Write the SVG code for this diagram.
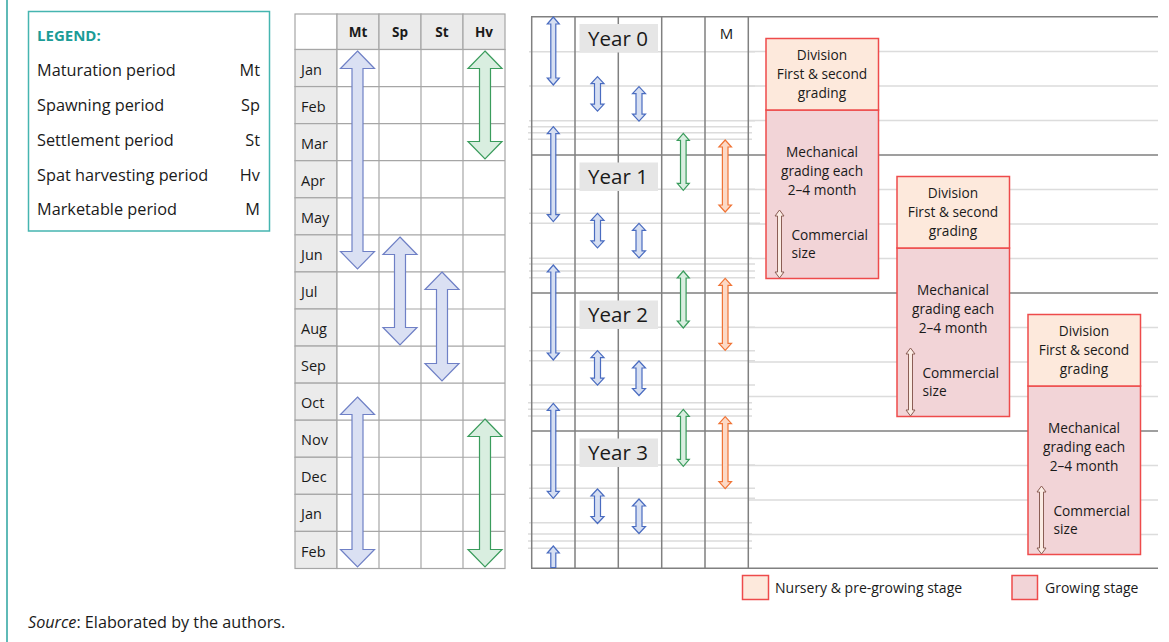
<svg xmlns="http://www.w3.org/2000/svg" xmlns:xlink="http://www.w3.org/1999/xlink" width="1169" height="642" viewBox="0 0 1169 642">
  <style>
    text { font-family: "Open Sans", "Liberation Sans", sans-serif; fill: #1a1a1a; }
    .leg { font-size: 16.3px; }
    .legh { font-size: 15px; font-weight: bold; fill: #1b9c97; }
    .hdr { font-size: 13.5px; font-weight: bold; text-anchor: middle; }
    .mon { font-size: 14.5px; }
    .yr { font-size: 20.5px; text-anchor: middle; }
    .bx { font-size: 13.7px; text-anchor: middle; }
    .bxl { font-size: 13.7px; }
    .small { font-size: 14px; }
    .cell { fill: #ffffff; stroke: #a6a6a6; stroke-width: 1.2; }
    .gcell { fill: #ebebeb; stroke: #a6a6a6; stroke-width: 1.2; }
    .dark { stroke: #808080; stroke-width: 1.5; fill: none; }
    .light { stroke: #dcdcdc; stroke-width: 1.5; fill: none; }
    .blue { fill: #dae0f3; stroke: #6f80c6; stroke-width: 1.2; }
    .sblue { fill: #d6dff2; stroke: #4a6cc0; stroke-width: 1.2; }
    .green { fill: #d9eee0; stroke: #3a9c5c; stroke-width: 1.2; }
    .orange { fill: #fcd9c6; stroke: #f07436; stroke-width: 1.2; }
    .brown { fill: #fbece4; stroke: #8a5e55; stroke-width: 1; }
    .nurs { fill: #fde9dc; stroke: #ee4b4b; stroke-width: 1.5; }
    .grow { fill: #f2d4d7; stroke: #ee4b4b; stroke-width: 1.5; }
    .ylab { fill: #e6e6e6; }
  </style>
  <defs>
    <path id="a-c1s" d="M0,0 L6,7 L2.5,7 L2.5,61 L6,61 L0,68 L-6,61 L-2.5,61 L-2.5,7 L-6,7 Z"/>
    <path id="a-c1" d="M0,0 L6,7 L2.5,7 L2.5,88 L6,88 L0,95 L-6,88 L-2.5,88 L-2.5,7 L-6,7 Z"/>
    <path id="a-short" d="M0,0 L6.5,7 L3,7 L3,27.5 L6.5,27.5 L0,34.5 L-6.5,27.5 L-3,27.5 L-3,7 L-6.5,7 Z"/>
    <path id="a-green" d="M0,0 L6,7 L2.8,7 L2.8,50 L6,50 L0,57 L-6,50 L-2.8,50 L-2.8,7 L-6,7 Z"/>
    <path id="a-orange" d="M0,0 L6.3,7 L2.8,7 L2.8,65 L6.3,65 L0,72 L-6.3,65 L-2.8,65 L-2.8,7 L-6.3,7 Z"/>
    <path id="a-size" d="M0,0 L4.5,6 L2,6 L2,62 L4.5,62 L0,68 L-4.5,62 L-2,62 L-2,6 L-4.5,6 Z"/>
  </defs>

  <rect width="1169" height="642" fill="#ffffff"/>
  <!-- side rule -->
  <line x1="7" y1="0" x2="7" y2="642" stroke="#2aa39f" stroke-width="1.5"/>

  <!-- legend -->
  <g id="legend">
    <rect x="28.5" y="11.5" width="241" height="219.5" fill="#ffffff" stroke="#45b5b0" stroke-width="1.5"/>
    <text class="legh" x="37" y="40.5">LEGEND:</text>
    <text class="leg" x="37" y="76">Maturation period</text>
    <text class="leg" x="260" y="76" text-anchor="end">Mt</text>
    <text class="leg" x="37" y="111">Spawning period</text>
    <text class="leg" x="260" y="111" text-anchor="end">Sp</text>
    <text class="leg" x="37" y="145.5">Settlement period</text>
    <text class="leg" x="260" y="145.5" text-anchor="end">St</text>
    <text class="leg" x="37" y="180.5">Spat harvesting period</text>
    <text class="leg" x="260" y="180.5" text-anchor="end">Hv</text>
    <text class="leg" x="37" y="215">Marketable period</text>
    <text class="leg" x="260" y="215" text-anchor="end">M</text>
  </g>

  <!-- monthly calendar table -->
  <g id="calendar">
    <rect class="cell" x="295" y="14" width="42" height="35.5"/>
    <rect class="gcell" x="337" y="14" width="42" height="35.5"/>
    <rect class="gcell" x="379" y="14" width="42" height="35.5"/>
    <rect class="gcell" x="421" y="14" width="42" height="35.5"/>
    <rect class="gcell" x="463" y="14" width="42" height="35.5"/>
    <text class="hdr" x="358" y="37.3">Mt</text>
    <text class="hdr" x="400" y="37.3">Sp</text>
    <text class="hdr" x="442" y="37.3">St</text>
    <text class="hdr" x="484" y="37.3">Hv</text>
    <!-- month column -->
    <g>
      <rect class="gcell" x="295" y="49.5" width="42" height="37.07"/>
      <rect class="gcell" x="295" y="86.57" width="42" height="37.07"/>
      <rect class="gcell" x="295" y="123.64" width="42" height="37.07"/>
      <rect class="gcell" x="295" y="160.71" width="42" height="37.07"/>
      <rect class="gcell" x="295" y="197.78" width="42" height="37.07"/>
      <rect class="gcell" x="295" y="234.85" width="42" height="37.07"/>
      <rect class="gcell" x="295" y="271.92" width="42" height="37.07"/>
      <rect class="gcell" x="295" y="308.99" width="42" height="37.07"/>
      <rect class="gcell" x="295" y="346.06" width="42" height="37.07"/>
      <rect class="gcell" x="295" y="383.13" width="42" height="37.07"/>
      <rect class="gcell" x="295" y="420.2" width="42" height="37.07"/>
      <rect class="gcell" x="295" y="457.27" width="42" height="37.07"/>
      <rect class="gcell" x="295" y="494.34" width="42" height="37.07"/>
      <rect class="gcell" x="295" y="531.41" width="42" height="37.07"/>
    </g>
    <!-- body cells -->
    <rect class="cell" x="337" y="49.5" width="168" height="519"/>
    <g stroke="#a6a6a6" stroke-width="1.2">
      <line x1="379" y1="49.5" x2="379" y2="568.5"/>
      <line x1="421" y1="49.5" x2="421" y2="568.5"/>
      <line x1="463" y1="49.5" x2="463" y2="568.5"/>
      <line x1="337" y1="86.57" x2="505" y2="86.57"/>
      <line x1="337" y1="123.64" x2="505" y2="123.64"/>
      <line x1="337" y1="160.71" x2="505" y2="160.71"/>
      <line x1="337" y1="197.78" x2="505" y2="197.78"/>
      <line x1="337" y1="234.85" x2="505" y2="234.85"/>
      <line x1="337" y1="271.92" x2="505" y2="271.92"/>
      <line x1="337" y1="308.99" x2="505" y2="308.99"/>
      <line x1="337" y1="346.06" x2="505" y2="346.06"/>
      <line x1="337" y1="383.13" x2="505" y2="383.13"/>
      <line x1="337" y1="420.2" x2="505" y2="420.2"/>
      <line x1="337" y1="457.27" x2="505" y2="457.27"/>
      <line x1="337" y1="494.34" x2="505" y2="494.34"/>
      <line x1="337" y1="531.41" x2="505" y2="531.41"/>
    </g>
    <g class="mon">
      <text x="301" y="74.5">Jan</text>
      <text x="301" y="111.6">Feb</text>
      <text x="301" y="148.7">Mar</text>
      <text x="301" y="185.7">Apr</text>
      <text x="301" y="222.8">May</text>
      <text x="301" y="259.9">Jun</text>
      <text x="301" y="297">Jul</text>
      <text x="301" y="334">Aug</text>
      <text x="301" y="371.1">Sep</text>
      <text x="301" y="408.2">Oct</text>
      <text x="301" y="445.2">Nov</text>
      <text x="301" y="482.3">Dec</text>
      <text x="301" y="519.4">Jan</text>
      <text x="301" y="556.5">Feb</text>
    </g>
  </g>

  <!-- multi-year timeline grid -->
  <g id="timeline">
    <g class="light">
      <!-- working lines across the period columns -->
      <path d="M529,51.7 H755 M529,86 H755 M529,120.7 H755 M528,126.7 H752 M528,132.7 H752 M528,139.3 H752
               M529,189.3 H755 M529,213.3 H760 M529,223.3 H760 M529,258.3 H752 M529,264 H755 M529,271 H755 M529,277.7 H755
               M529,327.3 H755 M529,350.7 H755 M529,360.7 H755 M529,385 H755 M528,402.7 H752 M528,409.3 H752 M528,416 H752
               M529,465 H755 M529,488.3 H755 M529,498.3 H755 M529,522.7 H752 M528,534 H752 M528,541 H752 M528,548.3 H752"/>
      <!-- quarter lines -->
      <path d="M748,51.5 H1158 M748,86 H1158 M748,120.5 H1158
               M748,189.5 H1158 M748,224 H1158 M748,258.5 H1158
               M748,327.5 H1158 M748,362 H1158 M748,396.5 H1158
               M748,465.5 H1158 M748,500 H1158 M748,534.5 H1158"/>
    </g>
    <g class="dark">
      <path d="M531,16.7 H1158 M531,155 H1158 M531,293 H1158 M531,431 H1158 M531,568.3 H1158"/>
      <path d="M531.7,16.7 V568.3 M575,16.7 V568.3 M618.3,16.7 V568.3 M661.7,16.7 V568.3 M705,16.7 V568.3 M748.3,16.7 V568.3"/>
    </g>
    <text x="726.5" y="38.5" font-size="15" text-anchor="middle">M</text>
  </g>

  <!-- year labels -->
  <g id="year-0"><rect class="ylab" x="579.5" y="24" width="78.5" height="28.5"/><text class="yr" x="618" y="46">Year 0</text></g>
  <g id="year-1"><rect class="ylab" x="579.5" y="162.5" width="78.5" height="28.5"/><text class="yr" x="618" y="184">Year 1</text></g>
  <g id="year-2"><rect class="ylab" x="579.5" y="300.5" width="78.5" height="28.5"/><text class="yr" x="618" y="322">Year 2</text></g>
  <g id="year-3"><rect class="ylab" x="579.5" y="438.5" width="78.5" height="28.5"/><text class="yr" x="618" y="460">Year 3</text></g>

  <!-- period arrows -->
  <g id="arrows">
    <!-- calendar table -->
    <path class="blue" d="M357.5,51 L374.5,68.5 L363,68.5 L363,251.5 L374.5,251.5 L357.5,269 L340.5,251.5 L352,251.5 L352,68.5 L340.5,68.5 Z"/>
    <path class="blue" d="M400,237 L417,254.5 L405.5,254.5 L405.5,327.5 L417,327.5 L400,345 L383,327.5 L394.5,327.5 L394.5,254.5 L383,254.5 Z"/>
    <path class="blue" d="M442,272 L459,289.5 L447.5,289.5 L447.5,363.5 L459,363.5 L442,381 L425,363.5 L436.5,363.5 L436.5,289.5 L425,289.5 Z"/>
    <path class="green" d="M485,51 L502,68.5 L490.5,68.5 L490.5,141.5 L502,141.5 L485,159 L468,141.5 L479.5,141.5 L479.5,68.5 L468,68.5 Z"/>
    <path class="blue" d="M357.5,397 L374.5,414.5 L363,414.5 L363,549.5 L374.5,549.5 L357.5,567 L340.5,549.5 L352,549.5 L352,414.5 L340.5,414.5 Z"/>
    <path class="green" d="M485,419 L502,436.5 L490.5,436.5 L490.5,549.5 L502,549.5 L485,567 L468,549.5 L479.5,549.5 L479.5,436.5 L468,436.5 Z"/>
    <!-- timeline: maturation -->
    <use href="#a-c1s" class="sblue" x="553.3" y="17"/>
    <use href="#a-c1" class="sblue" x="553.3" y="126.7"/>
    <use href="#a-c1" class="sblue" x="553.3" y="265"/>
    <use href="#a-c1" class="sblue" x="553.3" y="403.3"/>
    <path class="sblue" d="M553.3,546 L559.3,553 L555.8,553 L555.8,567.5 L550.8,567.5 L550.8,553 L547.3,553 Z"/>
    <!-- spawning -->
    <use href="#a-short" class="sblue" x="597.5" y="76.7"/>
    <use href="#a-short" class="sblue" x="597.5" y="213.3"/>
    <use href="#a-short" class="sblue" x="597.5" y="350.7"/>
    <use href="#a-short" class="sblue" x="597.5" y="489"/>
    <!-- settlement -->
    <use href="#a-short" class="sblue" x="639" y="86.7"/>
    <use href="#a-short" class="sblue" x="639" y="223.3"/>
    <use href="#a-short" class="sblue" x="639" y="361"/>
    <use href="#a-short" class="sblue" x="639" y="499"/>
    <!-- spat harvesting -->
    <use href="#a-green" class="green" x="683.3" y="133.3"/>
    <use href="#a-green" class="green" x="683.3" y="271"/>
    <use href="#a-green" class="green" x="683.3" y="409.3"/>
    <!-- marketable -->
    <use href="#a-orange" class="orange" x="725.2" y="140"/>
    <use href="#a-orange" class="orange" x="725.2" y="278.3"/>
    <use href="#a-orange" class="orange" x="725.2" y="416.7"/>
  </g>

  <!-- stage boxes -->
  <g id="stage-1">
    <rect class="grow" x="766" y="110" width="112.5" height="168.5"/>
    <rect class="nurs" x="766" y="38.5" width="112.5" height="71.5"/>
    <text class="bx" x="822" y="60">Division</text>
    <text class="bx" x="822" y="78.5">First &amp; second</text>
    <text class="bx" x="822" y="97.5">grading</text>
    <text class="bx" x="822" y="157">Mechanical</text>
    <text class="bx" x="822" y="175.5">grading each</text>
    <text class="bx" x="822" y="194.5">2–4 month</text>
    <use href="#a-size" class="brown" x="779.5" y="210"/>
    <text class="bxl" x="791.5" y="240">Commercial</text>
    <text class="bxl" x="791.5" y="258">size</text>
  </g>
  <g id="stage-2" transform="translate(131,138)">
    <rect class="grow" x="766" y="110" width="112.5" height="168.5"/>
    <rect class="nurs" x="766" y="38.5" width="112.5" height="71.5"/>
    <text class="bx" x="822" y="60">Division</text>
    <text class="bx" x="822" y="78.5">First &amp; second</text>
    <text class="bx" x="822" y="97.5">grading</text>
    <text class="bx" x="822" y="157">Mechanical</text>
    <text class="bx" x="822" y="175.5">grading each</text>
    <text class="bx" x="822" y="194.5">2–4 month</text>
    <use href="#a-size" class="brown" x="779.5" y="210"/>
    <text class="bxl" x="791.5" y="240">Commercial</text>
    <text class="bxl" x="791.5" y="258">size</text>
  </g>
  <g id="stage-3" transform="translate(262,276)">
    <rect class="grow" x="766" y="110" width="112.5" height="168.5"/>
    <rect class="nurs" x="766" y="38.5" width="112.5" height="71.5"/>
    <text class="bx" x="822" y="60">Division</text>
    <text class="bx" x="822" y="78.5">First &amp; second</text>
    <text class="bx" x="822" y="97.5">grading</text>
    <text class="bx" x="822" y="157">Mechanical</text>
    <text class="bx" x="822" y="175.5">grading each</text>
    <text class="bx" x="822" y="194.5">2–4 month</text>
    <use href="#a-size" class="brown" x="779.5" y="210"/>
    <text class="bxl" x="791.5" y="240">Commercial</text>
    <text class="bxl" x="791.5" y="258">size</text>
  </g>

  <!-- stage key -->
  <g id="stage-key">
    <rect class="nurs" x="742.5" y="575.5" width="26" height="24"/>
    <text class="small" x="775" y="593">Nursery &amp; pre-growing stage</text>
    <rect class="grow" x="1012" y="575.5" width="25.5" height="24"/>
    <text class="small" x="1045" y="593">Growing stage</text>
  </g>

  <!-- source note -->
  <text x="28" y="627.5" font-size="16.2"><tspan font-style="italic">Source</tspan>: Elaborated by the authors.</text>
</svg>
